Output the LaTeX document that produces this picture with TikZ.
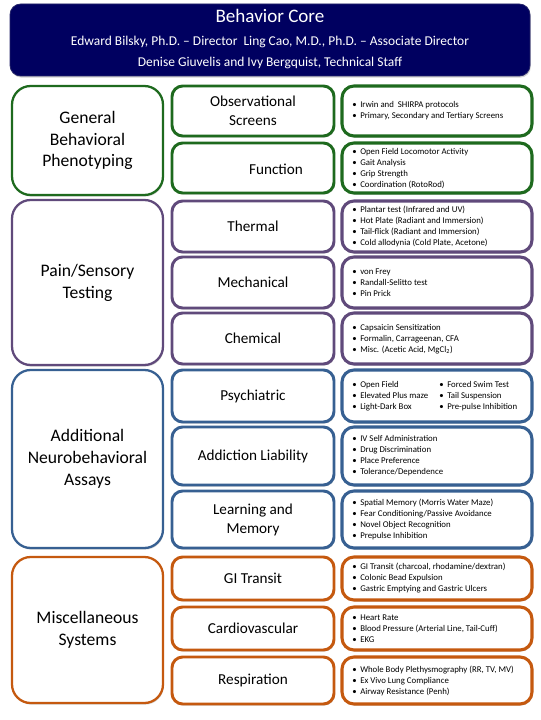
\documentclass[tikz,border=0pt]{standalone}
\usepackage{fontspec}
\setmainfont{Carlito}
\usetikzlibrary{shadows}
\definecolor{cgreen}{HTML}{1E6A1E}
\definecolor{cpurple}{HTML}{604A7B}
\definecolor{cblue}{HTML}{376092}
\definecolor{corange}{HTML}{C5590F}
\definecolor{cnavy}{HTML}{000060}
\newcommand{\bl}{\makebox[6pt][l]{•}}
\newcommand{\detfont}{\fontsize{6.6}{8.25}\selectfont}
\newcommand{\subfont}{\fontsize{11.4}{14.2}\selectfont}
\newcommand{\catfont}{\fontsize{13.2}{16.4}\selectfont}
\tikzset{
  shd/.style={drop shadow={shadow xshift=0.6pt, shadow yshift=-1.2pt, opacity=0.3, fill=black!60}},
  catbox/.style={draw, line width=1.7pt, rounded corners=14pt, fill=white, align=center, font=\catfont, minimum width=113.25pt, shd},
  subbox/.style={draw, line width=2.2pt, rounded corners=8pt, fill=white, align=center, font=\subfont, minimum width=121.5pt, shd},
  detbox/.style={draw, line width=2.3pt, rounded corners=9pt, fill=white, minimum width=142.5pt, shd},
  dettext/.style={anchor=west, align=left, font=\detfont, inner sep=0pt},
  hdr/.style={draw=cnavy!70!gray, line width=0.6pt, fill=cnavy, rounded corners=8pt, minimum width=390pt, minimum height=54pt, shd},
  hdrtext/.style={text=white, inner sep=0pt}
}
\begin{document}
\begin{tikzpicture}[x=0.75pt,y=-0.75pt]
\useasboundingbox (0,0) rectangle (540,720);
% header
\node[hdr] (head) at (270,40) {};
\node[hdrtext, font=\fontsize{14.3}{16}\selectfont] (title) at (270,15.5) {Behavior Core};
\node[hdrtext, font=\fontsize{10.1}{12}\selectfont] (dirs) at (270,42) {Edward Bilsky, Ph.D. – Director\ \ Ling Cao, M.D., Ph.D. – Associate Director};
\node[hdrtext, font=\fontsize{10.1}{12}\selectfont] (staff) at (270,62.5) {Denise Giuvelis and Ivy Bergquist, Technical Staff};

% ---------- General ----------
\node[catbox, draw=cgreen, minimum height=81.75pt] (gen) at (87.5,140.5) {General\\Behavioral\\Phenotyping};
\node[subbox, draw=cgreen, minimum height=37.5pt] (obs) at (253,111) {Observational\\Screens};
\node[subbox, draw=cgreen, minimum height=37.5pt] (fun) at (253,168) {};
\node[font=\subfont] (funt) at (276,169) {Function};
\node[detbox, draw=cgreen, minimum height=37.5pt] (obsd) at (437,111) {};
\node[dettext] (obst) at (352,111) {\bl Irwin and\ \ SHIRPA protocols\\\bl Primary, Secondary and Tertiary Screens};
\node[detbox, draw=cgreen, minimum height=37.5pt] (fund) at (437,168) {};
\node[dettext] (funtx) at (352,168.5) {\bl Open Field Locomotor Activity\\\bl Gait Analysis\\\bl Grip Strength\\\bl Coordination (RotoRod)};

% ---------- Pain ----------
\node[catbox, draw=cpurple, minimum height=123.75pt] (pain) at (87.5,282.5) {Pain/Sensory\\Testing};
\node[subbox, draw=cpurple, minimum height=38.25pt] (therm) at (253,226.5) {Thermal};
\node[subbox, draw=cpurple, minimum height=38.25pt] (mech) at (253,282.5) {Mechanical};
\node[subbox, draw=cpurple, minimum height=38.25pt] (chem) at (253,338.5) {Chemical};
\node[detbox, draw=cpurple, minimum height=38.25pt] (thermd) at (437,226.5) {};
\node[dettext] (thermt) at (352,226.5) {\bl Plantar test (Infrared and UV)\\\bl Hot Plate (Radiant and Immersion)\\\bl Tail-flick (Radiant and Immersion)\\\bl Cold allodynia (Cold Plate, Acetone)};
\node[detbox, draw=cpurple, minimum height=38.25pt] (mechd) at (437,282.5) {};
\node[dettext] (mecht) at (352,282.5) {\bl von Frey\\\bl Randall-Selitto test\\\bl Pin Prick};
\node[detbox, draw=cpurple, minimum height=38.25pt] (chemd) at (437,338.5) {};
\node[dettext] (chemt) at (352,339) {\bl Capsaicin Sensitization\\\bl Formalin, Carrageenan, CFA\\\bl Misc. (Acetic Acid, MgCl\textsubscript{2})};

% ---------- Neuro ----------
\node[catbox, draw=cblue, minimum height=133.5pt] (neuro) at (87.5,459) {Additional\\Neurobehavioral\\Assays};
\node[subbox, draw=cblue, minimum height=39pt] (psych) at (253,396) {Psychiatric};
\node[subbox, draw=cblue, minimum height=43.5pt] (addic) at (253,456) {Addiction Liability};
\node[subbox, draw=cblue, minimum height=42.75pt] (learn) at (253,519.5) {Learning and\\Memory};
\node[detbox, draw=cblue, minimum height=39pt] (psychd) at (437,396) {};
\node[dettext] (psycht) at (352,396) {\bl\makebox[59.25pt][l]{Open Field}\bl Forced Swim Test\\\bl\makebox[59.25pt][l]{Elevated Plus maze}\bl Tail Suspension\\\bl\makebox[59.25pt][l]{Light-Dark Box}\bl Pre-pulse Inhibition};
\node[detbox, draw=cblue, minimum height=43.5pt] (addicd) at (437,456) {};
\node[dettext] (addict) at (352,456) {\bl IV Self Administration\\\bl Drug Discrimination\\\bl Place Preference\\\bl Tolerance/Dependence};
\node[detbox, draw=cblue, minimum height=42.75pt] (learnd) at (437,519.5) {};
\node[dettext] (learnt) at (352,519.5) {\bl Spatial Memory (Morris Water Maze)\\\bl Fear Conditioning/Passive Avoidance\\\bl Novel Object Recognition\\\bl Prepulse Inhibition};

% ---------- Misc ----------
\node[catbox, draw=corange, minimum height=109.5pt] (misc) at (87.5,630) {Miscellaneous\\Systems};
\node[subbox, draw=corange, minimum height=32.25pt] (gi) at (253,578.5) {GI Transit};
\node[subbox, draw=corange, minimum height=32.25pt] (cardio) at (253,628.5) {Cardiovascular};
\node[subbox, draw=corange, minimum height=35.25pt] (resp) at (253,680.5) {Respiration};
\node[detbox, draw=corange, minimum height=32.25pt] (gid) at (437,578.5) {};
\node[dettext] (git) at (352,578.5) {\bl GI Transit (charcoal, rhodamine/dextran)\\\bl Colonic Bead Expulsion\\\bl Gastric Emptying and Gastric Ulcers};
\node[detbox, draw=corange, minimum height=32.25pt] (cardiod) at (437,628.5) {};
\node[dettext] (cardiot) at (352,628.5) {\bl Heart Rate\\\bl Blood Pressure (Arterial Line, Tail-Cuff)\\\bl EKG};
\node[detbox, draw=corange, minimum height=35.25pt] (respd) at (437,680.5) {};
\node[dettext] (respt) at (352,680.5) {\bl Whole Body Plethysmography (RR, TV, MV)\\\bl Ex Vivo Lung Compliance\\\bl Airway Resistance (Penh)};
\end{tikzpicture}
\end{document}
